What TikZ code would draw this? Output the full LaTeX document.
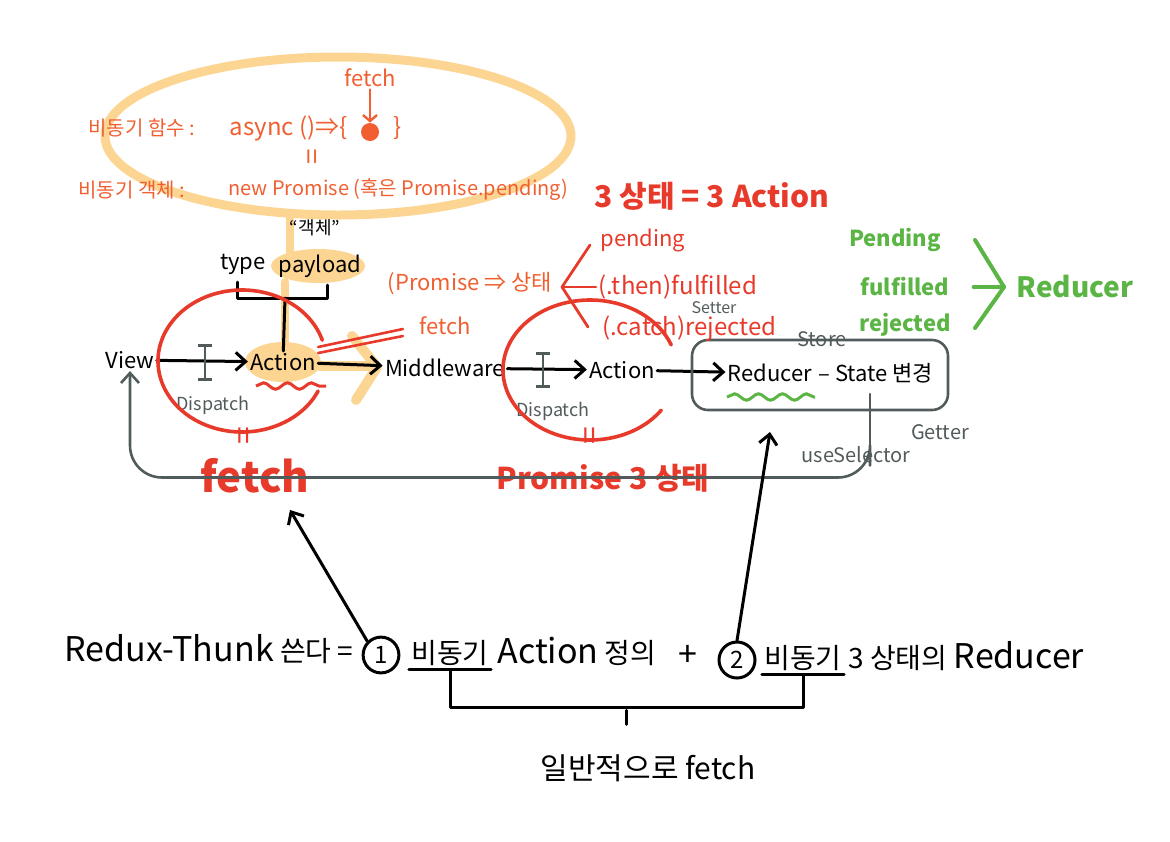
\documentclass[tikz,border=0pt]{standalone}
\usepackage{fontspec}
\setmainfont{Noto Sans CJK KR}
\usetikzlibrary{arrows.meta,positioning,shapes.geometric,calc,decorations.pathmorphing}
\definecolor{hlorange}{HTML}{FDD593}
\definecolor{penorange}{HTML}{F15F31}
\definecolor{penred}{HTML}{E73A2B}
\definecolor{pengreen}{HTML}{5BB545}
\definecolor{pengray}{HTML}{525B5B}
\newcommand{\fsz}[1]{\fontsize{#1}{#1}\selectfont}

\begin{document}
\begin{tikzpicture}[x=0.5pt, y=-0.5pt,
    every node/.style={inner sep=1pt},
    lbl/.style={font=\fsz{11}},
    orng/.style={text=penorange, font=\fsz{10}},
    rtxt/.style={text=penred, font=\fsz{12}},
    gtxt/.style={text=pengreen, font=\fsz{11}\bfseries},
    gry/.style={text=pengray, font=\fsz{9}},
    big/.style={font=\fsz{14}, text height=.85em, text depth=.2em},
    numc/.style={draw, circle, pen, font=\fsz{12}, inner sep=2.5pt},
    hl/.style={draw=hlorange, line cap=round, line join=round},
    pen/.style={line width=1.5pt, line cap=round, line join=round},
    arr/.style={pen, -{Straight Barb[length=5pt,width=9pt]}},
    redpen/.style={draw=penred, line width=1.8pt, line cap=round, line join=round},
    graypen/.style={draw=pengray, line width=1.3pt, line cap=round, line join=round},
    greenpen/.style={draw=pengreen, line width=2pt, line cap=round, line join=round},
    ibeam/.style={graypen, {Bar[width=7pt]}-{Bar[width=7pt]}},
    wavy/.style={decorate, decoration={snake, amplitude=1.6pt, segment length=12pt}, line width=1.5pt}
  ]
  \useasboundingbox (0,0) rectangle (1170,841);

  % highlighter strokes
  \draw[hl, line width=4.5pt] (338,136) ellipse [x radius=233, y radius=79];
  \draw[hl, line width=4pt] (290,214) -- (290,252);
  \draw[hl, line width=4pt] (285,282) -- (285,345);
  \draw[hl, line width=5pt] (320,366) -- (372,366);
  \draw[hl, line width=5pt] (352,336) -- (377,367) -- (356,400);
  \fill[hlorange] (318,266) ellipse [x radius=47, y radius=17];
  \fill[hlorange] (283,362) ellipse [x radius=38, y radius=20];

  % async function / promise
  \node[orng, font=\fsz{11}] (fetchtop) at (370,78) {fetch};
  \node[circle, fill=penorange, minimum size=9pt, inner sep=0pt] (dot) at (370,132) {};
  \draw[penorange, pen, line width=1.2pt, -{Straight Barb[length=3pt,width=7pt]}] (fetchtop) -- (dot);
  \node[orng, anchor=west] (fnlbl) at (86,128) {비동기 함수 :};
  \node[orng, font=\fsz{12}, anchor=east] (asyncfn) at (350,128) {async ()⇒\{};
  \node[orng, font=\fsz{12}] (brace) at (398,128) {\}};
  \node[orng, font=\fsz{14}, rotate=90] (eqtop) at (315,157) {=};
  \node[orng, anchor=west] (objlbl) at (76,190) {비동기 객체 :};
  \node[orng, anchor=west] (promise) at (226,190) {new Promise (혹은 Promise.pending)};

  % action object
  \node[lbl, font=\fsz{9}] (obj) at (315,228) {“객체”};
  \node[lbl] (type) at (243,264) {type};
  \node[lbl] (payload) at (320,266) {payload};
  \draw[pen] (237,282) -- (237,298) -- (327,298) -- (327,285);

  % flow
  \node[lbl] (view) at (130,360) {View};
  \node[lbl] (act1) at (283,362) {Action};
  \node[lbl] (mw) at (445,368) {Middleware};
  \node[lbl] (act2) at (622,370) {Action};
  \node[lbl] (reducer) at (770,373) {Reducer};
  \node[lbl, anchor=west] (state) at (816,373) {– State 변경};

  \draw[pen] (285,298) -- (act1);
  \draw[arr] (view) -- (act1);
  \draw[arr] (act1) -- (mw);
  \draw[arr] (mw) -- (act2);
  \draw[arr] (act2) -- (reducer);

  \draw[ibeam] (205,344) -- (205,381);
  \draw[ibeam] (543,352) -- (543,388);
  \node[gry] (disp1) at (213,405) {Dispatch};
  \node[gry] (disp2) at (553,411) {Dispatch};

  \draw[penred, wavy] (256,386) -- (326,386);
  \draw[pengreen, wavy] (727,397) -- (815,397);

  % red groups
  \draw[redpen] (242,361) ++(25:84 and 71) arc[start angle=25, end angle=343, x radius=84, y radius=71];
  \draw[redpen] (590,370) ++(35:87 and 70) arc[start angle=35, end angle=339, x radius=87, y radius=70];
  \node[rtxt, font=\fsz{16}, rotate=90] (eq1) at (247,436) {=};
  \node[rtxt, font=\fsz{16}, rotate=90] (eq2) at (593,436) {=};
  \node[text=penred, font=\fsz{21}\bfseries] (bigfetch) at (255,476) {fetch};
  \node[text=penred, font=\fsz{15}\bfseries] (p3) at (603,478) {Promise 3 상태};

  \node[orng, font=\fsz{11}] (fetchmid) at (445,326) {fetch};
  \draw[redpen, line width=1.3pt] ([shift={(0,-15)}]act1.east) -- ([shift={(-14,3)}]fetchmid.west);
  \draw[redpen, line width=1.3pt] ([shift={(0,-9)}]act1.east) -- ([shift={(-14,10)}]fetchmid.west);

  % store
  \draw[graypen, rounded corners=8pt] (692,340) rectangle (948,410);
  \node[gry, font=\fsz{10}] (store) at (822,339) {Store};
  \node[gry, font=\fsz{8}] (setter) at (714,308) {Setter};
  \node[gry, font=\fsz{10}] (getter) at (940,432) {Getter};
  \node[gry, font=\fsz{10}] (sel) at (856,455) {useSelector};
  \coordinate (gtop) at (870,394);
  \draw[graypen] (gtop) -- (gtop |- sel.north);
  \draw[graypen, -{Straight Barb[length=5pt,width=9pt]}, rounded corners=16pt]
    (gtop |- sel.south) -- ++(0,12) -| (view.south);

  % promise states
  \node[orng, font=\fsz{11}] (pstate) at (470,284) {(Promise ⇒ 상태};
  \node[rtxt, font=\fsz{11}, anchor=west] (rpend) at (598,240) {pending};
  \node[rtxt, anchor=west] (rthen) at (596,287) {(.then)fulfilled};
  \node[rtxt, anchor=west] (rcatch) at (600,329) {(.catch)rejected};
  \coordinate (rtip) at (562,287);
  \draw[redpen, line width=1.4pt] (590,245) -- (rtip) -- (588,327);
  \draw[redpen, line width=1.4pt] (rtip) -- (rthen.west);
  \node[text=penred, font=\fsz{15}\bfseries] (three) at (712,196) {3 상태 = 3 Action};

  \node[gtxt] (gpend) at (895,240) {Pending};
  \node[gtxt] (gful) at (905,287) {fulfilled};
  \node[gtxt] (grej) at (905,325) {rejected};
  \node[gtxt, font=\fsz{14}\bfseries] (greduc) at (1075,287) {Reducer};
  \coordinate (gtip) at (1004,287);
  \draw[greenpen] (975,240) -- (gtip) -- (975,328);
  \draw[greenpen] ($(gful.east)+(22,0)$) -- (gtip);

  % redux-thunk summary
  \node[big, anchor=west] (thunk) at (62,655) {{\fsz{17}Redux-Thunk} 쓴다 =};
  \node[numc] (one) at (381,655) {1};
  \node[big] (async1) at (450,657) {비동기};
  \node[big, anchor=west] (def) at (495,657) {{\fsz{17}Action} 정의};
  \node[big, font=\fsz{17}] (plus) at (688,660) {+};
  \node[numc] (two) at (737,660) {2};
  \node[big] (async2) at (803,662) {비동기};
  \node[big, anchor=west] (red3) at (846,662) {3 상태의 {\fsz{17}Reducer}};

  \draw[pen] (async1.south west) -- (async1.south east);
  \draw[pen] (async2.south west) -- (async2.south east);
  \draw[pen] (async1.south) -- ++(0,38) -| (async2.south);
  \draw[pen] ($(async1.south)!.5!(async2.south)+(0,38)$) -- ++(0,14);
  \node[big, font=\fsz{15}] (general) at (648,773) {일반적으로 fetch};

  \coordinate (fetchpt) at (290,510);
  \coordinate (storept) at (770,432);
  \draw[arr] (one.north west) -- (fetchpt);
  \draw[arr] (two.north) -- (storept);
\end{tikzpicture}
\end{document}
